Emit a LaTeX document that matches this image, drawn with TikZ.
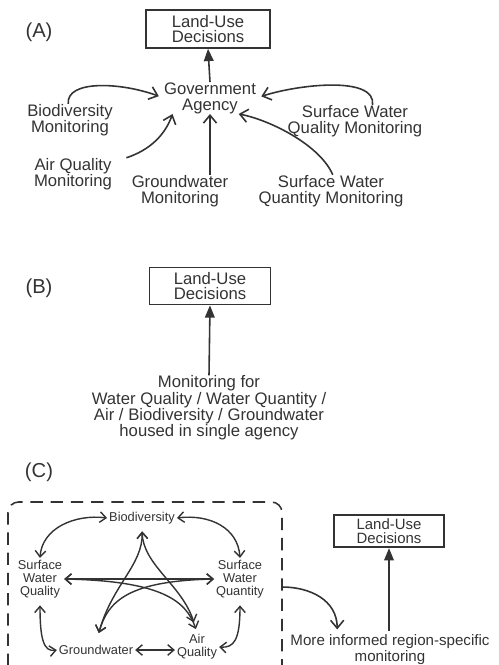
\documentclass[tikz,border=0pt]{standalone}
\usepackage{fontspec}
\setmainfont{Liberation Sans}
\usetikzlibrary{arrows.meta,positioning}
\definecolor{ink}{HTML}{333333}

\tikzset{
  panel/.style={font=\fontsize{11.5}{12}\selectfont,text=ink,inner sep=0pt},
  lbl/.style={font=\fontsize{9.5}{9.2}\selectfont,text=ink,align=center,inner sep=0pt},
  small/.style={font=\fontsize{7.3}{7.4}\selectfont,text=ink,align=center,inner sep=1pt},
  decbox/.style={draw=ink,line width=1pt,inner sep=0pt,align=center,text=ink},
  feed/.style={draw=ink,line width=0.9pt,-{Straight Barb[length=4.5pt,width=7.5pt]}},
  link/.style={draw=ink,line width=0.8pt,{Straight Barb[length=3.5pt,width=6pt]}-{Straight Barb[length=3.5pt,width=6pt]}},
  decide/.style={draw=ink,line width=0.9pt,-{Triangle[length=7pt,width=5.5pt]}}
}

\begin{document}
\begin{tikzpicture}[x=0.02cm,y=-0.02cm]
\useasboundingbox (0,0) rectangle (499,665);

% (A) separate monitoring programmes
\node[panel] (labA) at (39,32) {(A)};
\node[decbox,minimum width=71pt,minimum height=21.5pt,font=\fontsize{9.5}{9}\selectfont] (ludA) at (208,29) {Land-Use\\Decisions};
\node[lbl] (gov) at (210,98) {Government\\Agency};
\node[lbl] (bioM) at (70,120) {Biodiversity\\Monitoring};
\node[lbl] (swqM) at (355,121) {Surface Water\\Quality Monitoring};
\node[lbl] (airM) at (73,174) {Air Quality\\Monitoring};
\node[lbl] (gwM) at (180,191) {Groundwater\\Monitoring};
\node[lbl] (swqtM) at (331,191) {Surface Water\\Quantity Monitoring};
\draw[decide] (gov.north) -- (ludA.south);
\draw[feed,shorten >=3pt] ([xshift=-1pt]bioM.north) .. controls (66,80) and (120,82) .. (gov.west);
\draw[feed,shorten >=3pt] ([xshift=10pt]swqM.north) .. controls (376,76) and (300,84) .. (gov.east);
\draw[feed] ([xshift=8pt]airM.north east) .. controls (150,150) and (165,135) .. ([xshift=5pt]gov.south west);
\draw[feed] (gov.south |- gwM.north) -- (gov.south);
\draw[feed] ([xshift=1pt]swqtM.north) .. controls (320,145) and (270,120) .. ([xshift=-10pt]gov.south east);

% (B) one agency
\node[panel] (labB) at (39,288) {(B)};
\node[decbox,minimum width=69pt,minimum height=21pt,font=\fontsize{9.5}{9}\selectfont] (ludB) at (210,286) {Land-Use\\Decisions};
\node[lbl,font=\fontsize{9.5}{9.3}\selectfont] (single) at (209,408) {Monitoring for\\Water Quality / Water Quantity /\\Air / Biodiversity / Groundwater\\housed in single agency};
\draw[decide] (single.north) -- (ludB.south);

% (C) linked monitoring
\node[panel] (labC) at (39,472) {(C)};
\draw[ink,line width=0.9pt,dash pattern=on 7pt off 4.5pt,rounded corners=6pt] (8,666) -- (8,502) -- (282,502) -- (282,666);
\coordinate (boxR) at (282,587);
\node[small] (bio) at (142,518) {Biodiversity};
\node[small] (swql) at (40,579) {Surface\\Water\\Quality};
\node[small] (swqt) at (240,579) {Surface\\Water\\Quantity};
\node[small] (gw) at (96,650) {Groundwater};
\node[small] (air) at (197,647) {Air\\Quality};
\draw[link] (bio.west) .. controls (75,514) and (42,528) .. (swql.north);
\draw[link] (bio.east) .. controls (210,514) and (238,528) .. (swqt.north);
\draw[link] (swql.east) -- (swqt.west);
\draw[link,shorten <=6pt,shorten >=3pt] (gw.north) .. controls (112,585) and (143,565) .. (bio.south);
\draw[link,shorten <=6pt,shorten >=3pt] (air.north) .. controls (182,585) and (143,565) .. (bio.south);
\draw[link,shorten <=6pt] (gw.north) .. controls (108,600) and (130,581) .. (swqt.west);
\draw[link,shorten <=2pt] (air.north) .. controls (186,600) and (160,581) .. (swql.east);
\draw[link,shorten <=3pt] (swql.south) .. controls (40,640) and (44,652) .. (gw.west);
\draw[link,shorten <=3pt] (swqt.south) .. controls (240,640) and (234,648) .. (air.east);
\draw[link] (gw.east) -- (gw.east -| air.west);

\node[decbox,minimum width=63pt,minimum height=18.5pt,font=\fontsize{8.5}{8}\selectfont] (ludC) at (389,531) {Land-Use\\Decisions};
\node[lbl,font=\fontsize{8.6}{8}\selectfont] (more) at (390,650) {More informed region-specific\\monitoring};
\draw[decide,shorten <=2pt] (more.north -| ludC.south) -- (ludC.south);
\draw[feed,shorten >=3pt] (boxR) .. controls (310,587) and (337,600) .. ([xshift=-30pt]more.north);
\end{tikzpicture}
\end{document}
